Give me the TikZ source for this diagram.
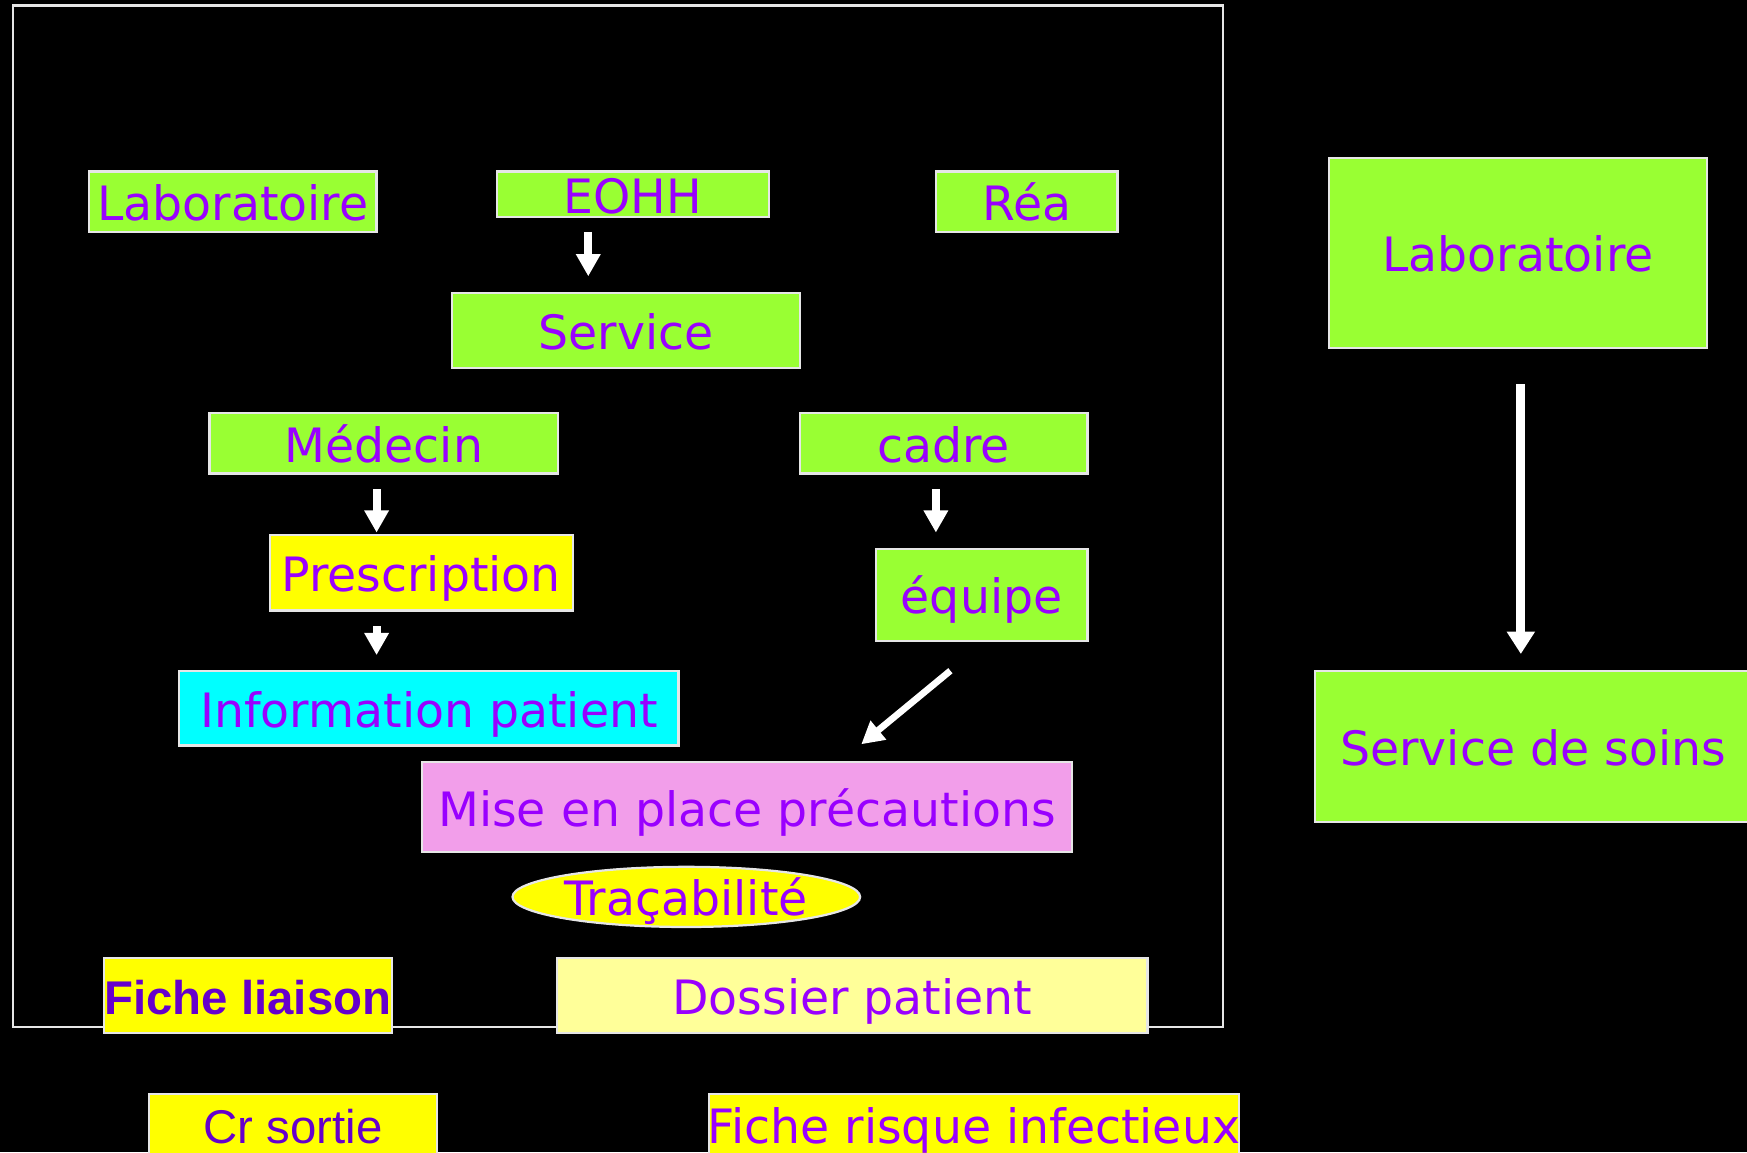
\documentclass[tikz,border=0pt]{standalone}
\usepackage{fontspec}
\setmainfont{DejaVu Sans}
\newfontfamily\arialf{Liberation Sans}
\usetikzlibrary{arrows.meta,shapes.geometric}
\definecolor{lgreen}{HTML}{99FF33}
\definecolor{ptext}{HTML}{9900FF}
\definecolor{dtext}{HTML}{6600CC}
\definecolor{yel}{HTML}{FFFF00}
\definecolor{lyel}{HTML}{FFFF99}
\definecolor{cyanb}{HTML}{00FFFF}
\definecolor{pinkb}{HTML}{F29EEA}
\definecolor{edge}{HTML}{E6E6E6}
\tikzset{
  box/.style={draw=edge, line width=1pt, inner sep=0pt, text=ptext,
    font=\fontsize{21.25pt}{25pt}\selectfont, text height=17pt, text depth=0pt},
  arr/.style={draw=white, line width=3.6pt, -{Triangle[width=10.5pt,length=10pt]}},
}
\begin{document}
\begin{tikzpicture}[x=0.5pt,y=-0.5pt]
\fill[black] (0,0) rectangle (1568,1034);
\useasboundingbox (0,0) rectangle (1568,1034);
% frame
\draw[edge, line width=1pt] (12,5) rectangle (1098,922);
% left pane nodes
\node[box, fill=lgreen, minimum width=129pt, minimum height=27pt] (labL) at (209,181) {Laboratoire};
\node[box, fill=lgreen, minimum width=122pt, minimum height=20.5pt] (eohh) at (568,174.5) {EOHH};
\node[box, fill=lgreen, minimum width=81.5pt, minimum height=27pt] (rea) at (921.5,181) {Réa};
\node[box, fill=lgreen, minimum width=156pt, minimum height=33.5pt] (service) at (562,296.5) {Service};
\node[box, fill=lgreen, minimum width=156.5pt, minimum height=27pt] (medecin) at (344.5,398) {Médecin};
\node[box, fill=lgreen, minimum width=129pt, minimum height=27pt] (cadre) at (847,398) {cadre};
\node[box, fill=yel, minimum width=136pt, minimum height=34pt] (presc) at (378,514) {Prescription};
\node[box, fill=lgreen, minimum width=95pt, minimum height=41pt] (equipe) at (881,534) {équipe};
\node[box, fill=cyanb, minimum width=224pt, minimum height=33.5pt] (info) at (385,635.5) {Information patient};
\node[box, fill=pinkb, minimum width=291.5pt, minimum height=40.5pt] (mise) at (670.5,724.5) {Mise en place précautions};
\node[box, ellipse, fill=yel, minimum width=156pt, minimum height=27pt] (trac) at (616,805) {Traçabilité};
\node[box, fill=yel, text=dtext, font=\fontsize{21.25pt}{25pt}\arialf\bfseries, minimum width=129.5pt, minimum height=33.5pt] (fliaison) at (222.5,893.5) {Fiche liaison};
\node[box, fill=lyel, minimum width=265pt, minimum height=33.5pt] (dossier) at (765,893.5) {Dossier patient};
\node[box, fill=yel, text=dtext, font=\fontsize{21.25pt}{25pt}\arialf, minimum width=129pt, minimum height=27pt] (cr) at (263,1009) {Cr sortie};
\node[box, fill=yel, minimum width=238pt, minimum height=27pt, inner xsep=-1pt] (frisque) at (874,1009) {Fiche risque infectieux};
% right pane nodes
\node[box, fill=lgreen, minimum width=169.5pt, minimum height=85.5pt] (labR) at (1362.5,227) {Laboratoire};
\node[box, fill=lgreen, minimum width=196pt, minimum height=67.5pt] (soins) at (1376,670) {Service de soins};
% arrow end points
\coordinate (a1s) at (528,208);  \coordinate (a1e) at (528,248);
\coordinate (a2s) at (338,439);  \coordinate (a2e) at (338,478);
\coordinate (a3s) at (338,562);  \coordinate (a3e) at (338,588);
\coordinate (a4s) at (840,439);  \coordinate (a4e) at (840,478);
\coordinate (a5s) at (853,602);  \coordinate (a5e) at (773,668);
\coordinate (a6s) at (1365,345); \coordinate (a6e) at (1365,587);
\draw[arr] (a1s) -- (a1e);
\draw[arr] (a2s) -- (a2e);
\draw[arr] (a3s) -- (a3e);
\draw[arr] (a4s) -- (a4e);
\draw[arr, line width=3pt] (a5s) -- (a5e);
\draw[arr, line width=4pt, -{Triangle[width=12pt,length=10pt]}] (a6s) -- (a6e);
\end{tikzpicture}
\end{document}
